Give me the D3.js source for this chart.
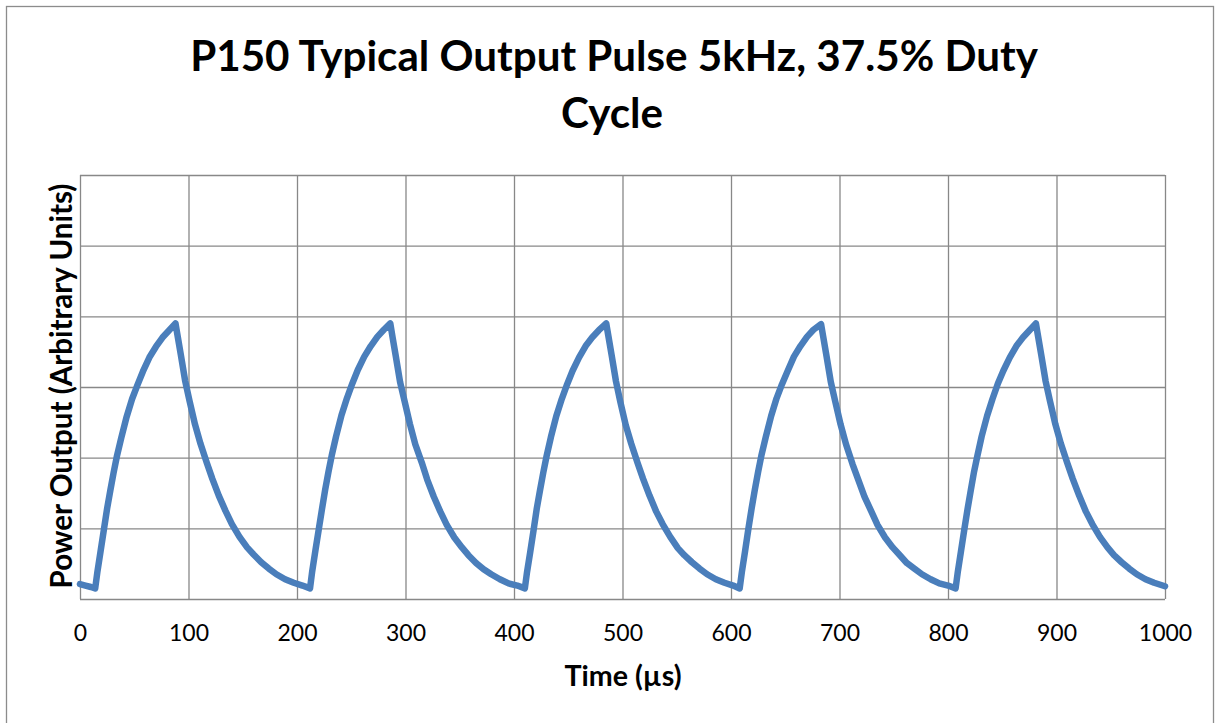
<!DOCTYPE html>
<html><head><meta charset="utf-8">
<script src="https://cdn.jsdelivr.net/npm/d3@7"></script>
<style>
body{margin:0;background:#fff}
text{font-family:Lato,"Open Sans","Liberation Sans",sans-serif;fill:#000}
</style>
</head><body>
<svg id="chart" width="1221" height="723"></svg>
<script>
// ---- data ----
const titleLines = ["P150 Typical Output Pulse 5kHz, 37.5% Duty", "Cycle"];
const xAxisTitle = "Time (µs)";
const yAxisTitle = "Power Output (Arbitrary Units)";
const xTicks = [0, 100, 200, 300, 400, 500, 600, 700, 800, 900, 1000];
const yGrid = [0, 1, 2, 3, 4, 5, 6];

const timeUs = [
  0,5,10,14, 16,19,22,25,28,31,34,38,43,48,53,58,64,70,76,82,88, 90,93,97,101,106,111,117,122,128,134,140,147,154,160,167,174,181,189,197,205,
  212, 214,217,220,223,226,229,232,236,241,246,251,256,262,268,274,280,286, 288,291,295,299,304,309,315,320,326,332,338,345,352,358,365,372,379,387,395,403,
  410, 412,415,418,421,424,427,430,434,439,444,449,454,460,466,472,478,485, 487,490,494,498,503,508,514,519,525,531,537,544,551,557,564,571,578,586,594,602,
  608, 610,613,616,619,622,625,628,632,637,642,647,652,658,664,670,676,683, 685,688,692,696,701,706,712,717,723,729,735,742,749,755,762,769,776,784,792,800,
  807, 809,812,815,818,821,824,827,831,836,841,846,851,857,863,869,875,881, 883,886,890,894,899,904,910,915,921,927,933,940,947,953,960,967,974,982,990,1000
];
const powerAU = [
  0.21,0.19,0.17,0.15, 0.38,0.68,0.98,1.28,1.54,1.79,2.02,2.28,2.58,2.83,3.03,3.22,3.42,3.57,3.70,3.80,3.90, 3.72,3.45,3.08,2.80,2.47,2.20,1.92,1.70,1.46,1.25,1.06,0.88,0.73,0.63,0.52,0.43,0.35,0.28,0.23,0.19,
  0.15, 0.39,0.69,0.98,1.27,1.55,1.80,2.03,2.30,2.60,2.84,3.05,3.24,3.43,3.58,3.71,3.81,3.90, 3.71,3.44,3.07,2.81,2.48,2.19,1.93,1.69,1.45,1.24,1.05,0.87,0.73,0.62,0.51,0.42,0.35,0.28,0.22,0.19,
  0.15, 0.38,0.67,0.97,1.28,1.54,1.79,2.02,2.29,2.59,2.83,3.04,3.23,3.42,3.58,3.70,3.80,3.90, 3.72,3.45,3.08,2.79,2.46,2.20,1.92,1.70,1.46,1.24,1.06,0.88,0.72,0.62,0.52,0.43,0.35,0.28,0.23,0.19,
  0.15, 0.38,0.68,0.99,1.28,1.55,1.80,2.03,2.29,2.59,2.84,3.04,3.22,3.43,3.58,3.71,3.81,3.89, 3.71,3.44,3.07,2.80,2.47,2.19,1.91,1.70,1.45,1.25,1.05,0.87,0.73,0.63,0.51,0.43,0.35,0.28,0.22,0.19,
  0.15, 0.38,0.68,0.98,1.27,1.54,1.80,2.02,2.30,2.59,2.83,3.05,3.23,3.42,3.58,3.70,3.80,3.90, 3.72,3.45,3.08,2.80,2.47,2.20,1.92,1.70,1.46,1.24,1.06,0.88,0.73,0.62,0.52,0.43,0.35,0.28,0.23,0.18
];

// ---- layout ----
const plot = {left: 80, right: 1165, top: 175, bottom: 599};
const gridColor = "#888888";
const lineColor = "#4A7EBB";

const svg = d3.select("#chart");

// outer chart border
svg.append("rect").attr("x", 6.5).attr("y", 6.5).attr("width", 1207).attr("height", 740)
  .attr("fill", "#fff").attr("stroke", "#8c8c8c").attr("stroke-width", 1.3);

const x = d3.scaleLinear().domain([0, 1000]).range([plot.left, plot.right]);
const y = d3.scaleLinear().domain([0, 6]).range([plot.bottom, plot.top]);

function fitText(sel, target, base) {
  sel.style("font-size", base + "px");
  const w = sel.node().getComputedTextLength();
  const fs = base * target / w;
  sel.style("font-size", fs + "px");
  return fs;
}

// vertical gridlines
svg.append("g").attr("transform", `translate(0,${plot.bottom})`)
  .call(d3.axisBottom(x).tickValues(xTicks).tickSize(-(plot.bottom - plot.top)).tickFormat(""))
  .call(g => g.select(".domain").remove())
  .call(g => g.selectAll("line").attr("stroke", gridColor).attr("stroke-width", 1.3));

// horizontal gridlines
svg.append("g").attr("transform", `translate(${plot.left},0)`)
  .call(d3.axisLeft(y).tickValues(yGrid).tickSize(-(plot.right - plot.left)).tickFormat(""))
  .call(g => g.select(".domain").remove())
  .call(g => g.selectAll("line").attr("stroke", gridColor).attr("stroke-width", 1.3));

// x tick labels
const tickFs = 23;
const xAxisG = svg.append("g").attr("transform", `translate(0,${plot.bottom})`)
  .call(d3.axisBottom(x).tickValues(xTicks).tickSize(0).tickPadding(42 - 0.71 * tickFs).tickFormat(d3.format("d")));
xAxisG.select(".domain").remove();
xAxisG.selectAll("text").attr("font-family", null).style("font-family", "Lato").style("font-size", tickFs + "px").attr("fill", "#000");

// data line
const pts = timeUs.map((t, i) => [t, powerAU[i]]);
svg.append("path").datum(pts)
  .attr("fill", "none").attr("stroke", lineColor).attr("stroke-width", 6.5)
  .attr("stroke-linejoin", "round").attr("stroke-linecap", "round")
  .attr("d", d3.line().x(d => x(d[0])).y(d => y(d[1])).curve(d3.curveLinear));

// title
const t1 = svg.append("text").attr("x", 614).attr("y", 71).attr("text-anchor", "middle")
  .style("font-weight", "700").text(titleLines[0]);
const titleFs = fitText(t1, 848, 40);
svg.append("text").attr("x", 612).attr("y", 128).attr("text-anchor", "middle")
  .style("font-weight", "700").style("font-size", titleFs + "px").text(titleLines[1]);

// x axis title
const xt = svg.append("text").attr("x", 623).attr("y", 686).attr("text-anchor", "middle")
  .style("font-weight", "700").text(xAxisTitle);
fitText(xt, 117, 25);

// y axis title
const yt = svg.append("text").attr("transform", "translate(72,386) rotate(-90)").attr("text-anchor", "middle")
  .style("font-weight", "700").text(yAxisTitle);
fitText(yt, 405, 25);
</script>
</body></html>
